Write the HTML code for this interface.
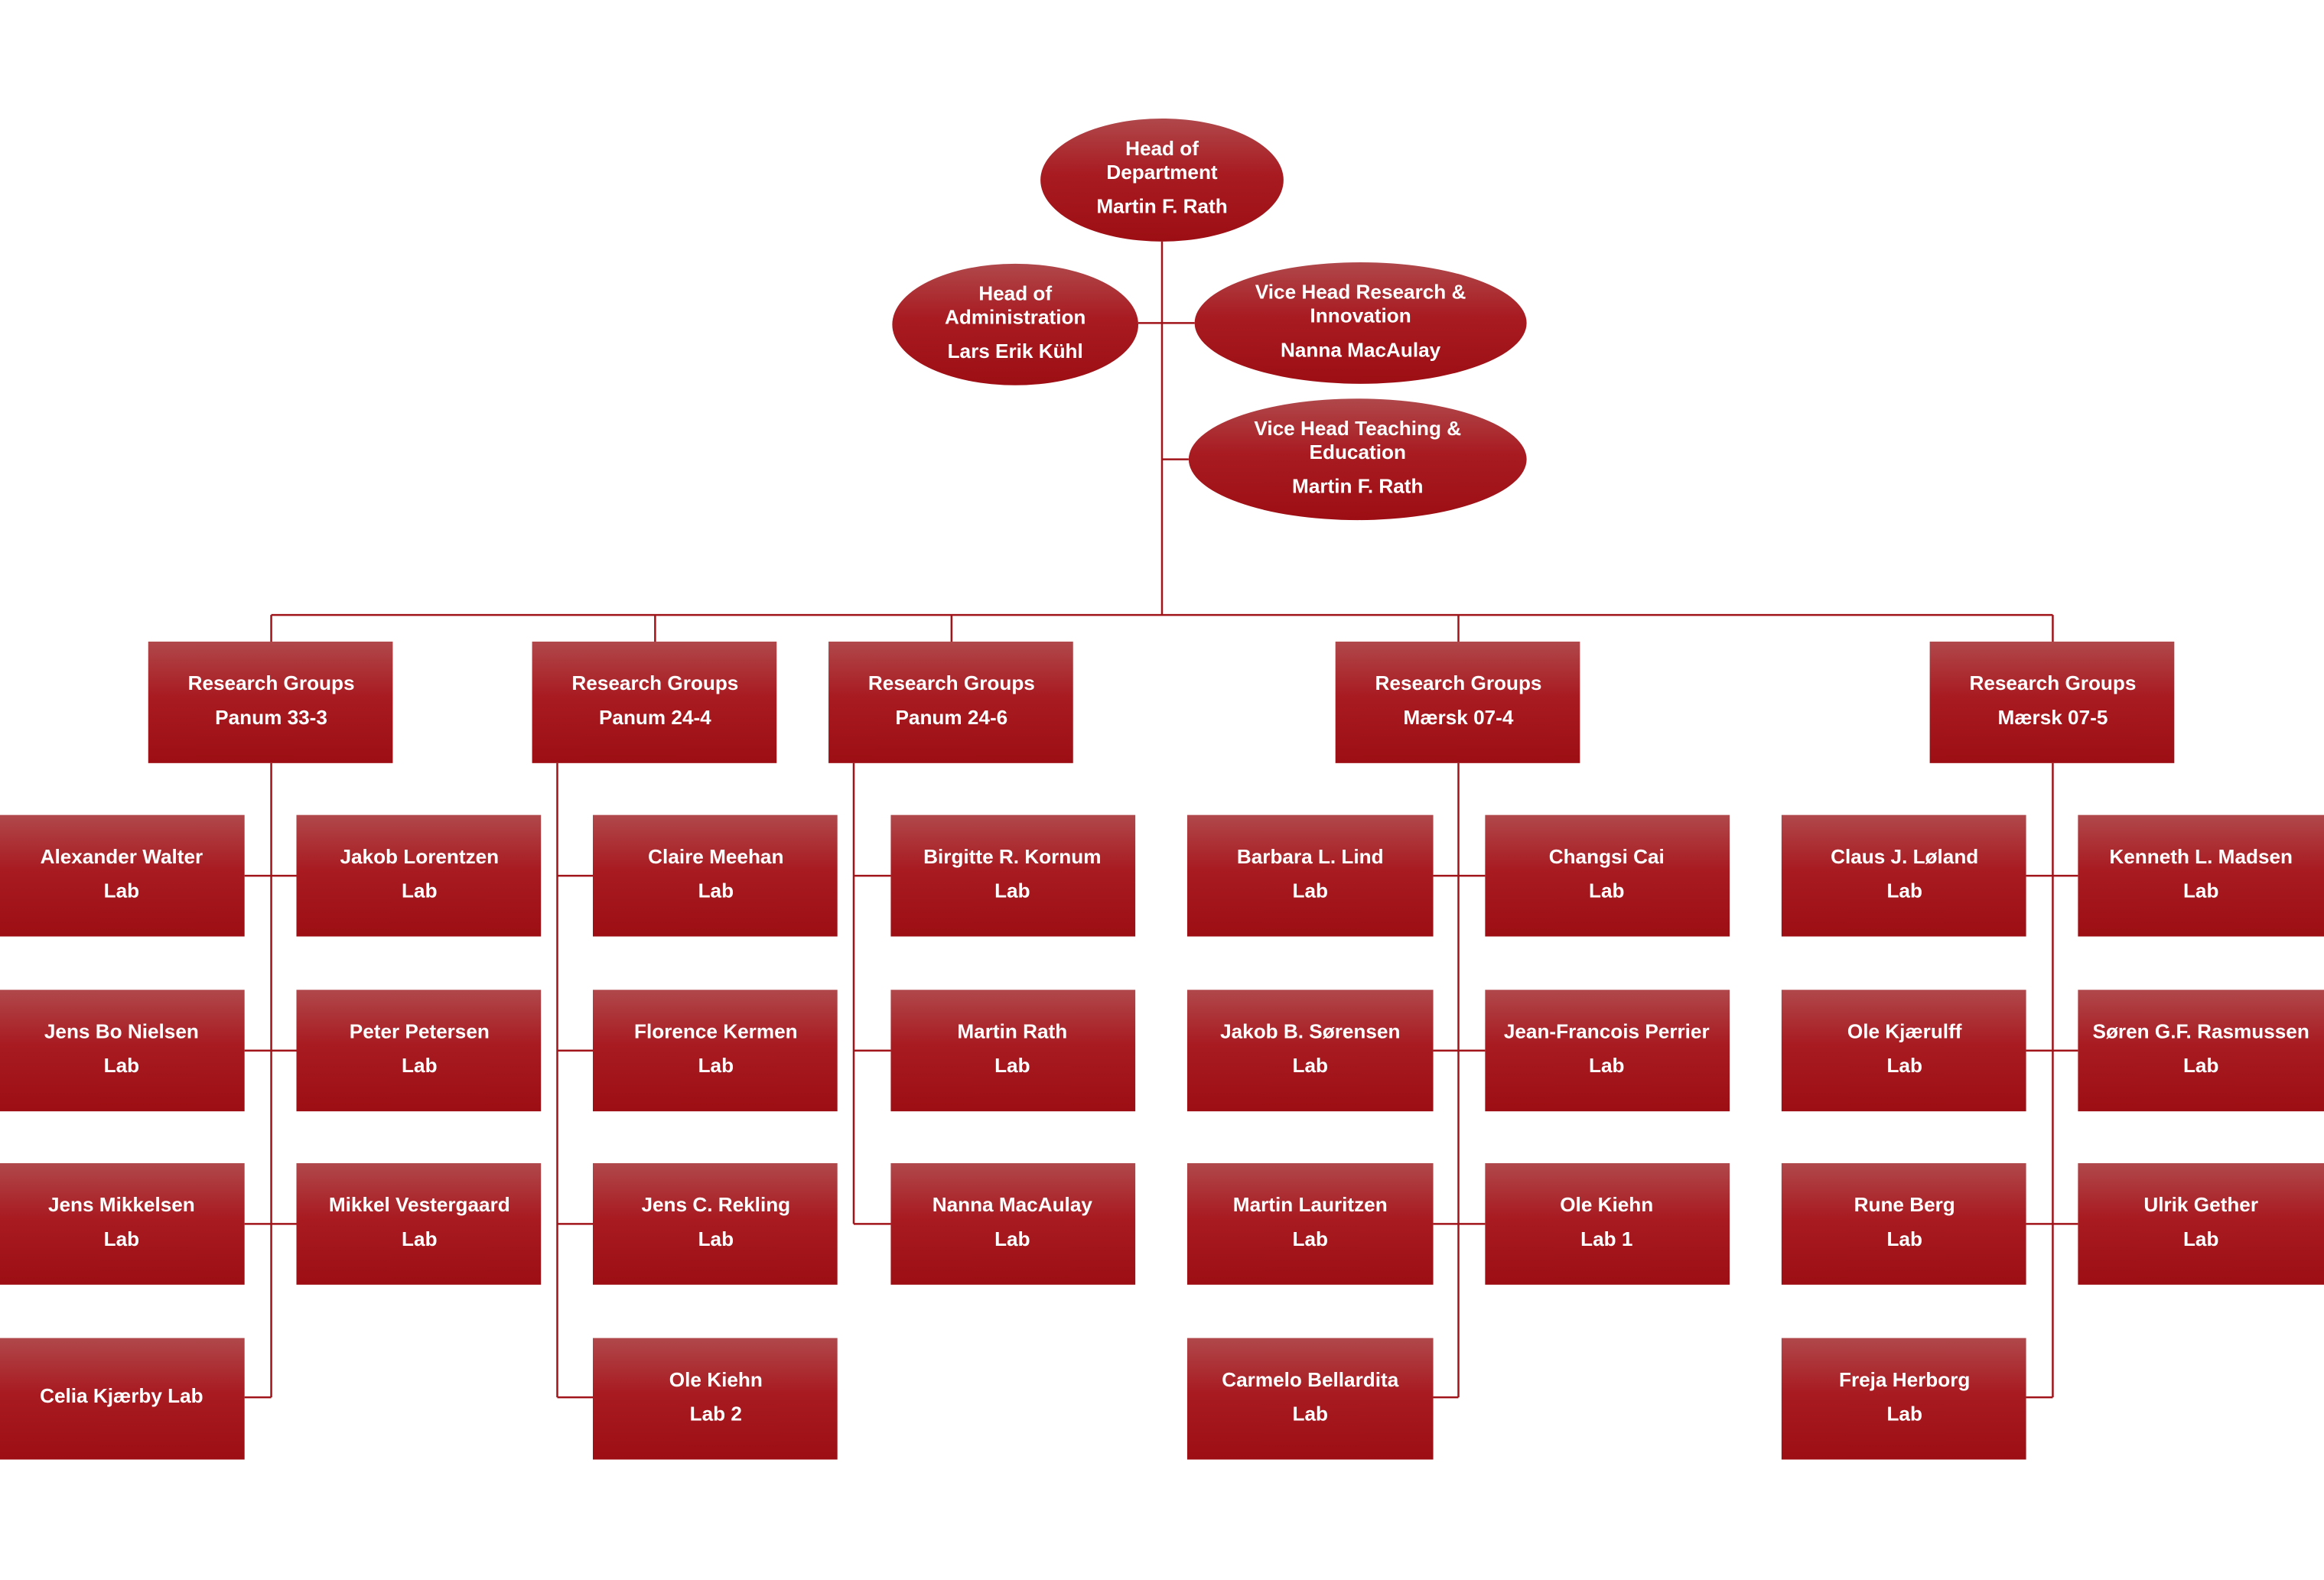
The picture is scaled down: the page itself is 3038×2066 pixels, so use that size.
<!DOCTYPE html>
<html><head><meta charset="utf-8"><style>
html,body{margin:0;padding:0;background:#fff}
svg{display:block}
text{font-family:"Liberation Sans",sans-serif;font-weight:bold;font-size:13.5px;fill:#fff;text-anchor:middle;dominant-baseline:central}
</style></head><body>
<svg width="3038" height="2066" viewBox="0 0 1568 1066.3" preserveAspectRatio="none" xmlns="http://www.w3.org/2000/svg">
<defs>
<linearGradient id="g" x1="0" y1="0" x2="0" y2="1">
<stop offset="0" stop-color="#b0484b"/><stop offset="0.45" stop-color="#a81b21"/><stop offset="1" stop-color="#9c0e13"/>
</linearGradient>
</defs>
<g stroke="#a0141a" stroke-width="1.3" fill="none">
<path d="M784 163V415M768 218H806M784 310H802M183 415H1385M183 415V433M442 415V433M642 415V433M984 415V433M1385 415V433"/>
<path d="M183 515V943M165 591H200M165 709H200M165 826H200M165 943H183"/>
<path d="M376 515V943M376 591H400M376 709H400M376 826H400M376 943H400"/>
<path d="M576 515V826M576 591H601M576 709H601M576 826H601"/>
<path d="M984 515V943M967 591H1002M967 709H1002M967 826H1002M967 943H984"/>
<path d="M1385 515V943M1367 591H1402M1367 709H1402M1367 826H1402M1367 943H1385"/>
</g>
<g fill="url(#g)">
<ellipse cx="784" cy="121.5" rx="82" ry="41.5"/>
<ellipse cx="685" cy="219" rx="83" ry="41"/>
<ellipse cx="918" cy="218" rx="112" ry="41"/>
<ellipse cx="916" cy="310" rx="114" ry="41"/>
<rect x="100" y="433" width="165" height="82"/><rect x="359" y="433" width="165" height="82"/><rect x="559" y="433" width="165" height="82"/><rect x="901" y="433" width="165" height="82"/><rect x="1302" y="433" width="165" height="82"/>
</g>
<g fill="url(#g)">
<rect x="0" y="550" width="165" height="82"/><rect x="200" y="550" width="165" height="82"/><rect x="400" y="550" width="165" height="82"/><rect x="601" y="550" width="165" height="82"/><rect x="801" y="550" width="166" height="82"/><rect x="1002" y="550" width="165" height="82"/><rect x="1202" y="550" width="165" height="82"/><rect x="1402" y="550" width="166" height="82"/>
<rect x="0" y="668" width="165" height="82"/><rect x="200" y="668" width="165" height="82"/><rect x="400" y="668" width="165" height="82"/><rect x="601" y="668" width="165" height="82"/><rect x="801" y="668" width="166" height="82"/><rect x="1002" y="668" width="165" height="82"/><rect x="1202" y="668" width="165" height="82"/><rect x="1402" y="668" width="166" height="82"/>
<rect x="0" y="785" width="165" height="82"/><rect x="200" y="785" width="165" height="82"/><rect x="400" y="785" width="165" height="82"/><rect x="601" y="785" width="165" height="82"/><rect x="801" y="785" width="166" height="82"/><rect x="1002" y="785" width="165" height="82"/><rect x="1202" y="785" width="165" height="82"/><rect x="1402" y="785" width="166" height="82"/>
<rect x="0" y="903" width="165" height="82"/><rect x="400" y="903" width="165" height="82"/><rect x="801" y="903" width="166" height="82"/><rect x="1202" y="903" width="165" height="82"/>
</g>
<text x="784" y="100">Head of</text><text x="784" y="116">Department</text><text x="784" y="139">Martin F. Rath</text>
<text x="685" y="198">Head of</text><text x="685" y="214">Administration</text><text x="685" y="237">Lars Erik Kühl</text>
<text x="918" y="197">Vice Head  Research &amp;</text><text x="918" y="213">Innovation</text><text x="918" y="236">Nanna MacAulay</text>
<text x="916" y="289">Vice Head Teaching &amp;</text><text x="916" y="305">Education</text><text x="916" y="328">Martin F. Rath</text>
<text x="183" y="461">Research Groups</text><text x="183" y="484">Panum 33-3</text>
<text x="442" y="461">Research Groups</text><text x="442" y="484">Panum 24-4</text>
<text x="642" y="461">Research Groups</text><text x="642" y="484">Panum 24-6</text>
<text x="984" y="461">Research Groups</text><text x="984" y="484">Mærsk 07-4</text>
<text x="1385" y="461">Research Groups</text><text x="1385" y="484">Mærsk 07-5</text>
<text x="82" y="578">Alexander Walter</text><text x="82" y="601">Lab</text>
<text x="283" y="578">Jakob Lorentzen</text><text x="283" y="601">Lab</text>
<text x="483" y="578">Claire Meehan</text><text x="483" y="601">Lab</text>
<text x="683" y="578">Birgitte R. Kornum</text><text x="683" y="601">Lab</text>
<text x="884" y="578">Barbara L. Lind</text><text x="884" y="601">Lab</text>
<text x="1084" y="578">Changsi Cai</text><text x="1084" y="601">Lab</text>
<text x="1285" y="578">Claus J. Løland</text><text x="1285" y="601">Lab</text>
<text x="1485" y="578">Kenneth L. Madsen</text><text x="1485" y="601">Lab</text>
<text x="82" y="696">Jens Bo Nielsen</text><text x="82" y="719">Lab</text>
<text x="283" y="696">Peter Petersen</text><text x="283" y="719">Lab</text>
<text x="483" y="696">Florence Kermen</text><text x="483" y="719">Lab</text>
<text x="683" y="696">Martin Rath</text><text x="683" y="719">Lab</text>
<text x="884" y="696">Jakob B. Sørensen</text><text x="884" y="719">Lab</text>
<text x="1084" y="696">Jean-Francois Perrier</text><text x="1084" y="719">Lab</text>
<text x="1285" y="696">Ole Kjærulff</text><text x="1285" y="719">Lab</text>
<text x="1485" y="696">Søren G.F. Rasmussen</text><text x="1485" y="719">Lab</text>
<text x="82" y="813">Jens Mikkelsen</text><text x="82" y="836">Lab</text>
<text x="283" y="813">Mikkel Vestergaard</text><text x="283" y="836">Lab</text>
<text x="483" y="813">Jens C. Rekling</text><text x="483" y="836">Lab</text>
<text x="683" y="813">Nanna MacAulay</text><text x="683" y="836">Lab</text>
<text x="884" y="813">Martin Lauritzen</text><text x="884" y="836">Lab</text>
<text x="1084" y="813">Ole Kiehn</text><text x="1084" y="836">Lab 1</text>
<text x="1285" y="813">Rune Berg</text><text x="1285" y="836">Lab</text>
<text x="1485" y="813">Ulrik Gether</text><text x="1485" y="836">Lab</text>
<text x="82" y="942">Celia Kjærby Lab</text>
<text x="483" y="931">Ole Kiehn</text><text x="483" y="954">Lab 2</text>
<text x="884" y="931">Carmelo Bellardita</text><text x="884" y="954">Lab</text>
<text x="1285" y="931">Freja Herborg</text><text x="1285" y="954">Lab</text>
</svg>
</body></html>
